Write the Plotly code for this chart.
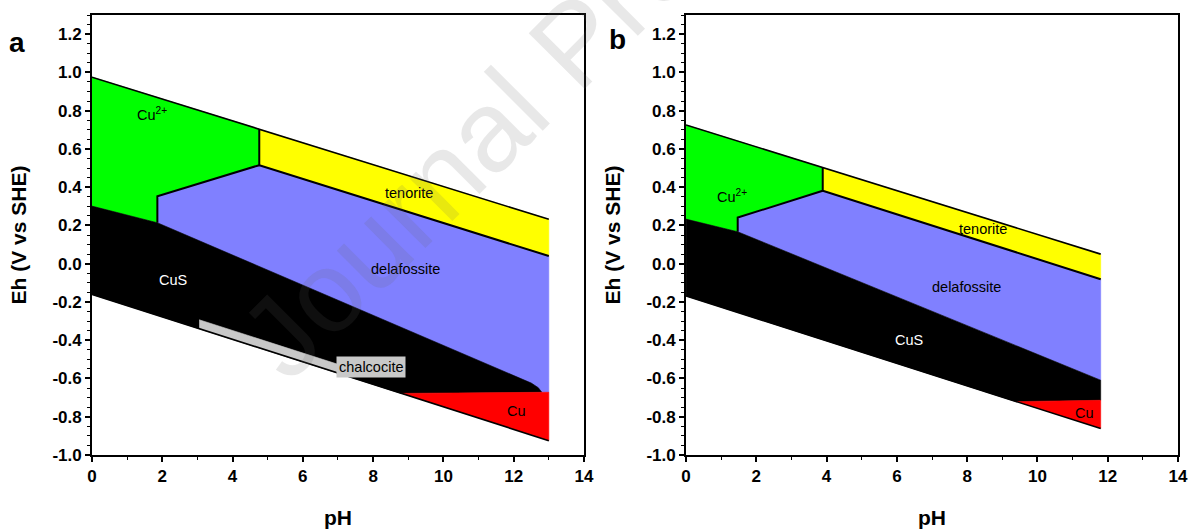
import plotly.graph_objects as go
from plotly.subplots import make_subplots

FONT = "Liberation Sans, Arial, sans-serif"

# ---------------- axes ----------------
ph_range = [0, 14]
eh_range = [-1.0, 1.3]
x_tickvals = [0, 2, 4, 6, 8, 10, 12, 14]
x_ticktext = ["0", "2", "4", "6", "8", "10", "12", "14"]
y_tickvals = [-1.0, -0.8, -0.6, -0.4, -0.2, 0.0, 0.2, 0.4, 0.6, 0.8, 1.0, 1.2]
y_ticktext = ["-1.0", "-0.8", "-0.6", "-0.4", "-0.2", "0.0", "0.2", "0.4", "0.6", "0.8", "1.0", "1.2"]

# ---------------- panel a (pH, Eh vertices) ----------------
a_upper_x = [0, 13]
a_upper_y = [0.975, 0.232]
a_lower_x = [0, 13]
a_lower_y = [-0.160, -0.925]
a_cu2_x = [0, 4.76, 4.76, 1.86, 1.86, 0]
a_cu2_y = [0.975, 0.703, 0.515, 0.353, 0.214, 0.301]
a_ten_x = [4.76, 13, 13, 4.76]
a_ten_y = [0.703, 0.232, 0.040, 0.515]
a_del_x = [1.86, 4.76, 13, 13, 12.8, 1.86]
a_del_y = [0.353, 0.515, 0.040, -0.672, -0.672, 0.214]
a_cus_x = [0, 1.86, 12.5, 12.7, 12.8, 8.8, 0]
a_cus_y = [0.301, 0.214, -0.624, -0.648, -0.672, -0.678, -0.160]
a_chc_x = [3.05, 7.0, 7.0, 3.05]
a_chc_y = [-0.293, -0.526, -0.572, -0.340]
a_cu_x = [8.8, 13, 13]
a_cu_y = [-0.678, -0.672, -0.925]
a_b1_x = [4.76, 4.76, 13]
a_b1_y = [0.703, 0.515, 0.040]
a_b2_x = [1.86, 1.86, 4.76]
a_b2_y = [0.214, 0.353, 0.515]

# ---------------- panel b ----------------
b_upper_x = [0, 11.8]
b_upper_y = [0.725, 0.050]
b_lower_x = [0, 11.8]
b_lower_y = [-0.168, -0.862]
b_cu2_x = [0, 3.89, 3.89, 1.47, 1.47, 0]
b_cu2_y = [0.725, 0.502, 0.381, 0.241, 0.167, 0.233]
b_ten_x = [3.89, 11.8, 11.8, 3.89]
b_ten_y = [0.502, 0.050, -0.081, 0.381]
b_del_x = [1.47, 3.89, 11.8, 11.8, 1.47]
b_del_y = [0.241, 0.381, -0.081, -0.609, 0.167]
b_cus_x = [0, 1.47, 11.8, 11.8, 9.4, 0]
b_cus_y = [0.233, 0.167, -0.609, -0.714, -0.721, -0.168]
b_cu_x = [9.4, 11.8, 11.8]
b_cu_y = [-0.721, -0.714, -0.862]
b_b1_x = [3.89, 3.89, 11.8]
b_b1_y = [0.502, 0.381, -0.081]
b_b2_x = [1.47, 1.47, 3.89]
b_b2_y = [0.167, 0.241, 0.381]

# ---------------- labels ----------------
a_lab_text = ["Cu<sup>2+</sup>", "tenorite", "delafossite", "CuS", "Cu"]
a_lab_x = [1.72, 9.03, 8.93, 2.31, 12.07]
a_lab_y = [0.785, 0.368, -0.030, -0.087, -0.772]
a_lab_col = ["black", "black", "black", "white", "black"]
b_lab_text = ["Cu<sup>2+</sup>", "tenorite", "delafossite", "CuS", "Cu"]
b_lab_x = [1.31, 8.45, 7.97, 6.35, 11.35]
b_lab_y = [0.355, 0.180, -0.124, -0.398, -0.780]
b_lab_col = ["black", "black", "black", "white", "black"]

C_GREEN = "#00FF00"
C_YELLOW = "#FFFF00"
C_BLUE = "#8080FF"
C_BLACK = "#000000"
C_RED = "#FF0000"
C_GRAY = "#C8C8C8"

fig = make_subplots(rows=1, cols=2, horizontal_spacing=0.094)


def poly(x, y, color, col, name):
    fig.add_trace(go.Scatter(x=x, y=y, fill="toself", fillcolor=color, mode="lines",
                             line=dict(color=color, width=0.6), name=name,
                             hoverinfo="name", showlegend=False), row=1, col=col)


def line(x, y, col, w=1.6):
    fig.add_trace(go.Scatter(x=x, y=y, mode="lines", line=dict(color="black", width=w),
                             hoverinfo="skip", showlegend=False), row=1, col=col)


# panel a
poly(a_cu2_x, a_cu2_y, C_GREEN, 1, "Cu2+")
poly(a_ten_x, a_ten_y, C_YELLOW, 1, "tenorite")
poly(a_del_x, a_del_y, C_BLUE, 1, "delafossite")
poly(a_cus_x, a_cus_y, C_BLACK, 1, "CuS")
poly(a_chc_x, a_chc_y, C_GRAY, 1, "chalcocite")
poly(a_cu_x, a_cu_y, C_RED, 1, "Cu")
line(a_b1_x, a_b1_y, 1, 2)
line(a_b2_x, a_b2_y, 1, 2)
line(a_upper_x, a_upper_y, 1)
line(a_lower_x, a_lower_y, 1)

# panel b
poly(b_cu2_x, b_cu2_y, C_GREEN, 2, "Cu2+")
poly(b_ten_x, b_ten_y, C_YELLOW, 2, "tenorite")
poly(b_del_x, b_del_y, C_BLUE, 2, "delafossite")
poly(b_cus_x, b_cus_y, C_BLACK, 2, "CuS")
poly(b_cu_x, b_cu_y, C_RED, 2, "Cu")
line(b_b1_x, b_b1_y, 2, 2)
line(b_b2_x, b_b2_y, 2, 2)
line(b_upper_x, b_upper_y, 2)
line(b_lower_x, b_lower_y, 2)

axis_common = dict(showline=True, linecolor="black", linewidth=1.8, mirror=True,
                   ticks="outside", ticklen=5, tickwidth=1.6, tickcolor="black",
                   showgrid=False, zeroline=False, automargin=False,
                   tickfont=dict(family=FONT, size=17, color="black", weight="bold"))

for c in (1, 2):
    fig.update_xaxes(range=ph_range, tickmode="array", tickvals=x_tickvals, ticktext=x_ticktext,
                     minor=dict(ticks="outside", dtick=1, ticklen=3, tickwidth=1.3, tickcolor="black"),
                     title=dict(text="pH", font=dict(family=FONT, size=21, color="black", weight="bold"),
                                standoff=26),
                     row=1, col=c, **axis_common)
    fig.update_yaxes(range=eh_range, tickmode="array", tickvals=y_tickvals, ticktext=y_ticktext,
                     minor=dict(ticks="outside", dtick=0.05, ticklen=3, tickwidth=1.3, tickcolor="black"),
                     title=dict(text="Eh (V vs SHE)", font=dict(family=FONT, size=21, color="black", weight="bold"),
                                standoff=20),
                     row=1, col=c, **axis_common)

fig.update_xaxes(domain=[0.0, 0.453], row=1, col=1)
fig.update_xaxes(domain=[0.547, 1.0], row=1, col=2)

ann = []
for t, x, y, c in zip(a_lab_text, a_lab_x, a_lab_y, a_lab_col):
    ann.append(dict(text=t, x=x, y=y, xref="x", yref="y", showarrow=False,
                    font=dict(family=FONT, size=14.5, color=c)))
ann.append(dict(text="chalcocite", x=7.95, y=-0.542, xref="x", yref="y", showarrow=False,
                bgcolor=C_GRAY, borderpad=2, font=dict(family=FONT, size=14.5, color="black")))
for t, x, y, c in zip(b_lab_text, b_lab_x, b_lab_y, b_lab_col):
    ann.append(dict(text=t, x=x, y=y, xref="x2", yref="y2", showarrow=False,
                    font=dict(family=FONT, size=14.5, color=c)))
# panel letters
ann.append(dict(text="a", x=17, y=42, xref="paper", yref="paper", showarrow=False,
                font=dict(family=FONT, size=28, color="black", weight="bold")))
ann.append(dict(text="b", x=617, y=40, xref="paper", yref="paper", showarrow=False,
                font=dict(family=FONT, size=28, color="black", weight="bold")))
# watermark (partly outside the page, as in the reference)
ann.append(dict(text="Journal Pre-proof", x=575, y=42, xref="paper", yref="paper", showarrow=False,
                textangle=-45, font=dict(family=FONT, size=115, color="rgba(100,100,100,0.15)")))

# convert pixel positions of paper annotations to paper coords
W, H = 1192, 529
ML, MR, MT, MB = 92, 14, 15, 74
for a in ann:
    if a["xref"] == "paper":
        a["x"] = (a["x"] - ML) / (W - ML - MR)
        a["y"] = (H - MB - a["y"]) / (H - MT - MB)
        a["xanchor"] = "center"
        a["yanchor"] = "middle"

fig.update_layout(width=W, height=H, margin=dict(l=ML, r=MR, t=MT, b=MB, autoexpand=False),
                  paper_bgcolor="white", plot_bgcolor="white",
                  annotations=ann, showlegend=False)

fig.write_html("out.html")
